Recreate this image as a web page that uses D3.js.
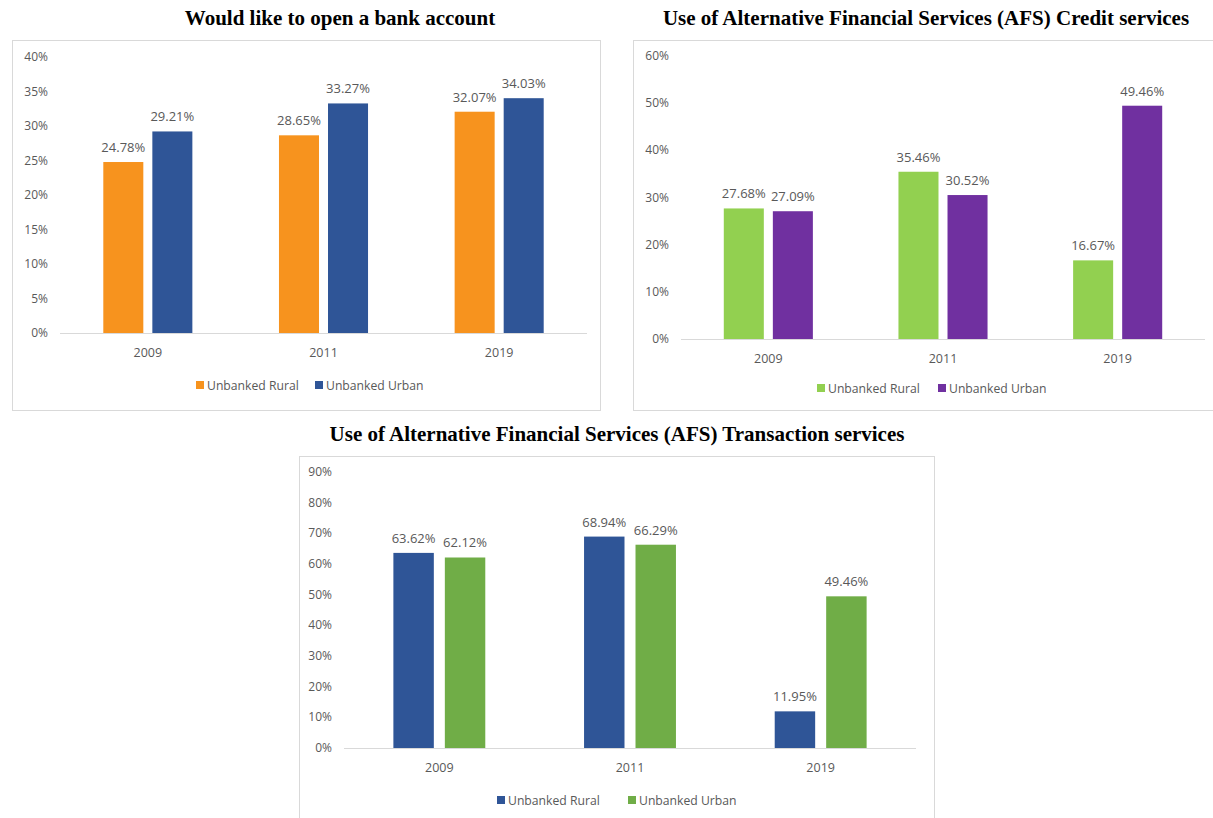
<!DOCTYPE html>
<html>
<head>
<meta charset="utf-8">
<script src="https://cdn.jsdelivr.net/npm/d3@7"></script>
<style>
  body { margin: 0; background: #fff; }
  svg { display: block; }
</style>
</head>
<body>
<script>
// data
const years = ["2009", "2011", "2019"];
const seriesNames = ["Unbanked Rural", "Unbanked Urban"];

const openAccountRural = [24.78, 28.65, 32.07];
const openAccountUrban = [29.21, 33.27, 34.03];

const creditRural = [27.68, 35.46, 16.67];
const creditUrban = [27.09, 30.52, 49.46];

const transactionRural = [63.62, 68.94, 11.95];
const transactionUrban = [62.12, 66.29, 49.46];

const W = 1213, H = 818;
const svg = d3.select("body").append("svg").attr("width", W).attr("height", H);

const labelFont = "'Open Sans', 'Noto Sans', sans-serif";
const gray = "#595959";

function drawChart(c) {
  const g = svg.append("g");

  // title
  g.append("text")
    .attr("x", c.titleX).attr("y", c.titleY)
    .attr("text-anchor", "middle")
    .attr("font-family", "'Liberation Serif', 'Times New Roman', serif")
    .attr("font-weight", "bold")
    .attr("font-size", 21)
    .attr("fill", "#000")
    .text(c.title);

  // frame
  g.append("rect")
    .attr("x", c.box[0] + 0.5).attr("y", c.box[1] + 0.5)
    .attr("width", c.box[2]).attr("height", c.box[3])
    .attr("fill", "none").attr("stroke", "#d9d9d9");

  const x = d3.scaleBand().domain(years)
    .range([c.x0, c.x1])
    .paddingInner(c.pad).paddingOuter(c.pad / 2);
  const xs = d3.scaleBand().domain(seriesNames)
    .range([0, x.bandwidth()])
    .paddingInner(c.innerPad);
  const y = d3.scaleLinear().domain([0, c.ymax]).range([c.y0, c.y1]);

  // y labels
  const ticks = d3.range(0, c.ymax + 0.001, c.step);
  g.selectAll(".yl").data(ticks).join("text")
    .attr("x", c.x0 - 12).attr("y", d => y(d) + 4)
    .attr("text-anchor", "end")
    .attr("font-family", labelFont).attr("font-size", 12)
    .attr("fill", gray)
    .text(d => d + "%");

  // baseline
  g.append("line")
    .attr("x1", c.x0).attr("x2", c.x1)
    .attr("y1", y(0) + 0.5).attr("y2", y(0) + 0.5)
    .attr("stroke", "#d9d9d9").attr("stroke-width", 1.2);

  const rows = [];
  years.forEach((yr, i) => {
    rows.push({ yr, s: seriesNames[0], v: c.rural[i], col: c.colors[0] });
    rows.push({ yr, s: seriesNames[1], v: c.urban[i], col: c.colors[1] });
  });

  g.selectAll(".bar").data(rows).join("rect")
    .attr("x", d => x(d.yr) + xs(d.s))
    .attr("y", d => y(d.v))
    .attr("width", xs.bandwidth())
    .attr("height", d => y(0) - y(d.v))
    .attr("fill", d => d.col);

  g.selectAll(".val").data(rows).join("text")
    .attr("x", d => x(d.yr) + xs(d.s) + xs.bandwidth() / 2)
    .attr("y", d => y(d.v) - 10)
    .attr("text-anchor", "middle")
    .attr("font-family", labelFont).attr("font-size", 13)
    .attr("fill", gray)
    .text(d => d.v.toFixed(2) + "%");

  // x labels
  g.selectAll(".xl").data(years).join("text")
    .attr("x", d => x(d) + x.bandwidth() / 2)
    .attr("y", y(0) + 24)
    .attr("text-anchor", "middle")
    .attr("font-family", labelFont).attr("font-size", 12.5)
    .attr("fill", gray)
    .text(d => d);

  // legend
  const lg = g.append("g").attr("transform", `translate(${c.legendX},${c.legendY})`);
  seriesNames.forEach((s, i) => {
    const off = i * c.legendGap;
    lg.append("rect").attr("x", off).attr("y", -9).attr("width", 8).attr("height", 8)
      .attr("fill", c.colors[i]);
    lg.append("text").attr("x", off + 11).attr("y", 0)
      .attr("font-family", labelFont).attr("font-size", 12.2)
      .attr("fill", gray).text(s);
  });
}

drawChart({
  title: "Would like to open a bank account",
  titleX: 340, titleY: 25,
  box: [12, 40, 588, 370],
  x0: 60, x1: 587, y0: 333, y1: 57,
  ymax: 40, step: 5,
  pad: 0.493, innerPad: 0.184,
  rural: openAccountRural, urban: openAccountUrban,
  colors: ["#f7931e", "#2f5597"],
  legendX: 196, legendY: 390, legendGap: 119
});

drawChart({
  title: "Use of Alternative Financial Services (AFS) Credit services",
  titleX: 926, titleY: 25,
  box: [633, 40, 590, 370],
  x0: 681, x1: 1205, y0: 339, y1: 56,
  ymax: 60, step: 10,
  pad: 0.49, innerPad: 0.184,
  rural: creditRural, urban: creditUrban,
  colors: ["#92d050", "#7030a0"],
  legendX: 817, legendY: 393, legendGap: 121
});

drawChart({
  title: "Use of Alternative Financial Services (AFS) Transaction services",
  titleX: 617, titleY: 441,
  box: [299, 456, 635, 380],
  x0: 344, x1: 916, y0: 748, y1: 472,
  ymax: 90, step: 10,
  pad: 0.518, innerPad: 0.214,
  rural: transactionRural, urban: transactionUrban,
  colors: ["#2f5597", "#70ad47"],
  legendX: 497, legendY: 805, legendGap: 131
});
</script>
</body>
</html>
